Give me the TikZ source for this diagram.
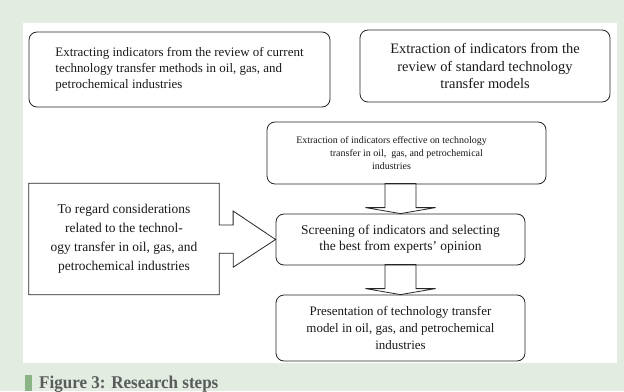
\documentclass[tikz,border=0pt]{standalone}
\usepackage{fontspec}
\setmainfont{Liberation Serif}
\newfontfamily\capfont[FakeStretch=0.95]{Liberation Serif}
\usepackage{tikz}
\definecolor{pagegreen}{RGB}{227,236,224}
\definecolor{bargreen}{RGB}{138,180,134}
\definecolor{capgray}{RGB}{88,92,90}

\begin{document}
\begin{tikzpicture}[x=1bp,y=-1bp,
  stepbox/.style={draw=black!85,line width=0.8bp,rounded corners=8bp,inner sep=0pt,text=black!90,align=center},
  blockline/.style={draw=black!85,line width=0.8bp}]
\fill[pagegreen] (0,0) rectangle (624,391);
\fill[white] (23,23) rectangle (617,363);

\node[stepbox,minimum width=301bp,minimum height=75bp,align=left,font=\fontsize{13}{16}\selectfont] (cur) at (179.5,69.5) {Extracting indicators from the review of current\\technology transfer methods in oil, gas, and\\petrochemical industries};
\node[stepbox,minimum width=250bp,minimum height=72bp,font=\fontsize{14.5}{18}\selectfont] (std) at (485,66) {Extraction of indicators from the\\review of standard technology\\transfer models};
\node[stepbox,minimum width=279bp,minimum height=62bp,font=\fontsize{10}{13}\selectfont] (eff) at (406.5,153) {Extraction of indicators effective on technology\hspace*{30bp}\\transfer in oil,\ \ gas, and petrochemical\hspace*{30bp}\\industries\hspace*{30bp}};
\node[stepbox,minimum width=249bp,minimum height=51bp,font=\fontsize{13.5}{16}\selectfont] (scr) at (400.5,239.5) {Screening of indicators and selecting\\the best from experts' opinion};
\node[stepbox,minimum width=249bp,minimum height=66bp,font=\fontsize{13}{17}\selectfont] (pres) at (400.5,328) {Presentation of technology transfer\\model in oil, gas, and petrochemical\\industries};
\node[minimum width=190bp,minimum height=111bp,inner sep=0pt,align=center,text=black!90,font=\fontsize{13.5}{19}\selectfont] (cons) at (124,239) {To regard considerations\\related to the technol-\\ogy transfer in oil, gas, and\\petrochemical industries};

\draw[blockline] (cons.east) ++(0,-14) -- (cons.north east) -- (cons.north west) -- (cons.south west) -- (cons.south east) -- ++(0,-41.5) -- ++(14,0) -- ++(0,14) -- (scr.west) -- ++(-42.5,-28.5) -- ++(0,14) -- cycle;
\draw[blockline] (scr.north) -- ++(35,-6) -- ++(-19.5,0) -- ++(0,-24) -- ++(-31,0) -- ++(0,24) -- ++(-19.5,0) -- cycle;
\draw[blockline] (pres.north) -- ++(35,-6) -- ++(-19.5,0) -- ++(0,-24) -- ++(-31,0) -- ++(0,24) -- ++(-19.5,0) -- cycle;

\fill[bargreen] (25,375) rectangle (32,391);
\node[anchor=base west,inner sep=0pt,text=capgray,font=\capfont\bfseries\fontsize{18}{20}\selectfont] (cap) at (39,388) {Figure 3: Research steps};
\end{tikzpicture}
\end{document}
